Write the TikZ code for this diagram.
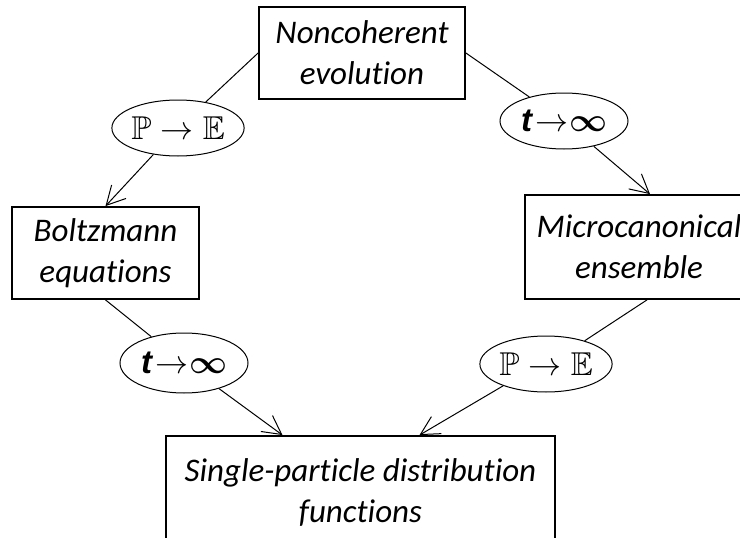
\RequirePackage{fix-cm}
\documentclass[tikz,border=0pt]{standalone}
\usepackage{amsmath,amssymb}
\usepackage{fontspec}
\setmainfont[Ligatures=NoCommon]{Carlito}
\newfontfamily\tfont{Liberation Sans}
\usetikzlibrary{shapes.geometric,arrows.meta}

\newcommand\boxtext{\fontsize{33}{41}\selectfont\itshape}
\newcommand\ovaltext{\fontsize{33}{38}\selectfont}
\newcommand\PtoE{$\mathbb{P}\rightarrow\mathbb{E}$}
\newcommand\ttoinf{{\tfont\bfseries\itshape t}\hspace{3pt}$\rightarrow$\hspace{1pt}$\boldsymbol{\infty}$}

\tikzset{
  box/.style={draw, line width=1.8pt, align=center, inner sep=0pt, font=\boxtext},
  oval/.style={draw, ellipse, line width=1pt, minimum width=128pt, minimum height=56pt,
    inner sep=0pt, font=\ovaltext},
  link/.style={line width=1pt},
  flow/.style={line width=1pt, -{Straight Barb[angle=56:21pt]}}
}

\begin{document}
\begin{tikzpicture}[x=1pt, y=-1pt]
  \useasboundingbox (0,0) rectangle (740,538);
  \clip (0,0) rectangle (740,538);

  % Boxes
  \node[box, minimum width=206pt, minimum height=92pt] (noncoh) at (362,53) {Noncoherent\\evolution};
  \node[box, minimum width=187pt, minimum height=92pt] (boltz) at (105.5,253) {Boltzmann\\equations};
  \node[box, minimum width=228pt, minimum height=104pt] (micro) at (639,247) {Microcanonical\\ensemble};
  \node[box, minimum width=389pt, minimum height=112pt] (single) at (360.5,492) {Single-particle distribution\\functions};

  % Ovals
  \node[oval] (pe1) at (178,128) {\PtoE};
  \node[oval] (tinf1) at (564,121) {\ttoinf};
  \node[oval, minimum height=60pt] (tinf2) at (184,363) {\ttoinf};
  \node[oval] (pe2) at (546,364) {\PtoE};

  % Left route
  \draw[link] (noncoh.west) -- (pe1);
  \draw[flow] (pe1) -- (boltz.north);
  \draw[link] (boltz.south) -- (tinf2);
  \draw[flow] (tinf2) -- ([xshift=-78pt]single.north);

  % Right route
  \draw[link] (noncoh.east) -- (tinf1);
  \draw[flow] (tinf1) -- ([xshift=11pt]micro.north);
  \draw[link] ([xshift=8pt]micro.south) -- (pe2.31);
  \draw[flow] (pe2.207) -- ([xshift=59pt]single.north);
\end{tikzpicture}
\end{document}
